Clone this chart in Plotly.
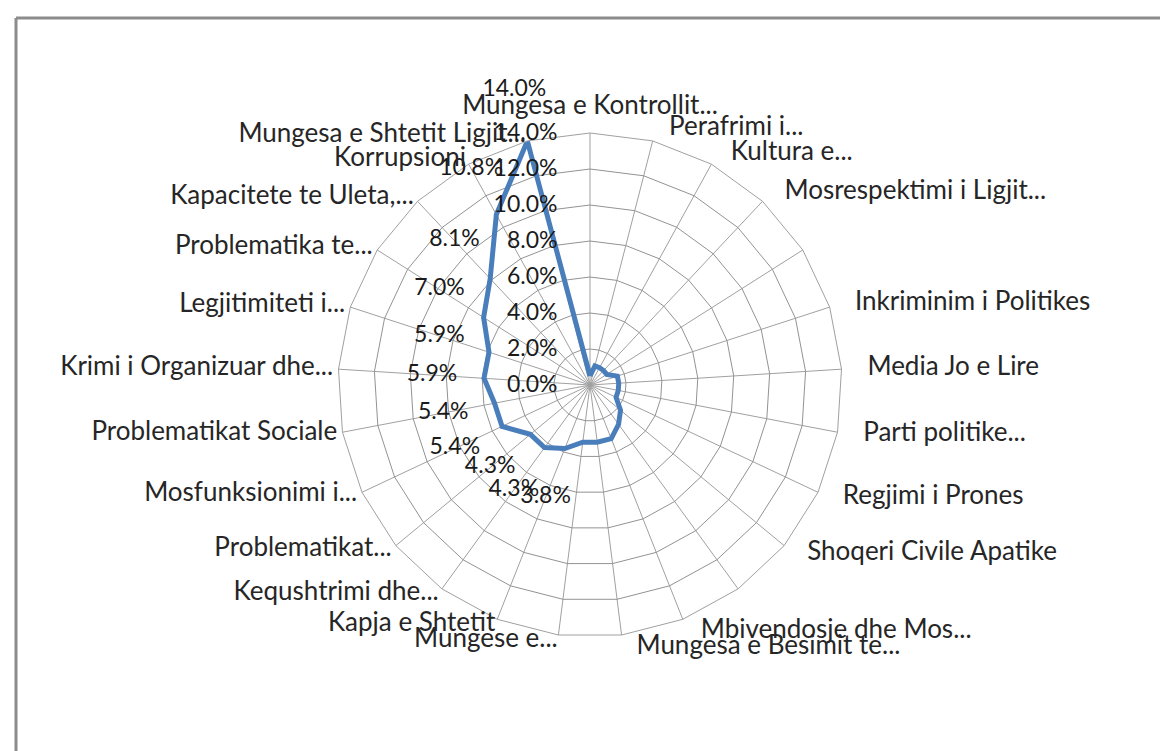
import plotly.graph_objects as go

# 25 categories clockwise from the top, as they appear (Excel truncates long
# names; two spokes carry no visible label in the original)
categories = [
    "Mungesa e Kontrollit...", "Perafrimi i...", "Kultura e...",
    "Mosrespektimi i Ligjit...", " ", "Inkriminim i Politikes",
    "Media Jo e Lire", "Parti politike...", "Regjimi i Prones",
    "Shoqeri Civile Apatike", "  ", "Mbivendosje dhe Mos...",
    "Mungesa e Besimit te...", "Mungese e...", "Kapja e Shtetit",
    "Kequshtrimi dhe...", "Problematikat...", "Mosfunksionimi i...",
    "Problematikat Sociale", "Krimi i Organizuar dhe...", "Legjitimiteti i...",
    "Problematika te...", "Kapacitete te Uleta,...", "Korrupsioni",
    "Mungesa e Shtetit Ligjit...",
]
# share of answers, in percent
values = [0.5, 1.1, 1.1, 1.1, 1.1, 1.6, 1.6, 1.6, 1.6, 2.2, 2.7, 3.2, 3.2, 3.2,
          3.8, 4.3, 4.3, 5.4, 5.4, 5.9, 5.9, 7.0, 8.1, 10.8, 14.0]
# only these points carry a data label in the original
labelled = [False] * 14 + [True] * 11

minor_ticks = [round(i * 0.4, 1) for i in range(36)]
major_ticks = [0, 2, 4, 6, 8, 10, 12, 14]

FONT = "Lato"
LINE_BLUE = "#4a7ebb"
W, H = 1168, 751
CX, CY, R = 582, 377, 252     # polar centre / radius in pixels (from top-left)


def domain(radius):
    cy = H - CY
    return dict(x=[(CX - radius) / W, (CX + radius) / W],
                y=[(cy - radius) / H, (cy + radius) / H])


# Excel-like category label anchoring: centred on top, beside the spoke elsewhere
n = len(categories)
cat_pos, cat_r, cat_txt = [], [], []
for i, name in enumerate(categories):
    ang = i * 360 / n
    if ang == 0:
        cat_pos.append("top center")
        cat_r.append(14.7)
        cat_txt.append(name)
    elif ang < 180:
        cat_pos.append("middle right")
        cat_r.append(14.7)
        cat_txt.append("\u00a0\u00a0" + name)   # Excel leaves a wider gap on the right
    else:
        cat_pos.append("middle left")
        cat_r.append(14.3)
        cat_txt.append(name)

fig = go.Figure()

# the series, closed back to the first category
fig.add_trace(go.Scatterpolar(
    r=values + values[:1],
    theta=categories + categories[:1],
    mode="lines",
    line=dict(color=LINE_BLUE, width=5),
    subplot="polar2",
    hoverinfo="skip",
    showlegend=False,
))

# data labels sit ~3 points further out than their points
# (own, larger polar so the top one is not clipped)
fig.add_trace(go.Scatterpolar(
    r=[v + 2.9 for v, lab in zip(values, labelled) if lab],
    theta=[c for c, lab in zip(categories, labelled) if lab],
    text=[f"{v:.1f}%" for v, lab in zip(values, labelled) if lab],
    mode="text", textposition="middle center",
    textfont=dict(family=FONT, size=23, color="#1a1a1a"),
    cliponaxis=False,
    subplot="polar3",
    hoverinfo="skip",
    showlegend=False,
))

# category names just outside the outer ring
fig.add_trace(go.Scatterpolar(
    r=cat_r, theta=categories, text=cat_txt,
    mode="text", textposition=cat_pos,
    textfont=dict(family=FONT, size=26, color="#262626"),
    cliponaxis=False,
    subplot="polar3",
    hoverinfo="skip",
    showlegend=False,
))

fig.update_layout(
    width=W, height=H,
    margin=dict(l=0, r=0, t=0, b=0),
    paper_bgcolor="white",
    font=dict(family=FONT, size=25, color="#262626"),
    # minor grid underneath
    polar=dict(
        domain=domain(R),
        gridshape="linear",
        bgcolor="white",
        radialaxis=dict(
            range=[0, 14], tickvals=minor_ticks, showticklabels=False,
            gridcolor="#bdbdbd", gridwidth=1, showline=False, ticks="",
        ),
        angularaxis=dict(
            categoryarray=categories, type="category",
            rotation=90, direction="clockwise",
            showticklabels=False, gridcolor="#a0a0a0", linecolor="#a0a0a0",
            ticks="",
        ),
    ),
    # major grid, radial labels and series on top
    polar2=dict(
        domain=domain(R),
        gridshape="linear",
        bgcolor="rgba(0,0,0,0)",
        radialaxis=dict(
            range=[0, 14], tickvals=major_ticks,
            ticktext=[f"{t:.1f}%" for t in major_ticks],
            angle=90, tickangle=90, side="counterclockwise",
            gridcolor="#939393", gridwidth=1, showline=False,
            ticks="outside", ticklen=24, tickcolor="rgba(0,0,0,0)",
            tickfont=dict(family=FONT, size=23, color="#1a1a1a"),
        ),
        angularaxis=dict(
            categoryarray=categories, type="category",
            rotation=90, direction="clockwise",
            gridcolor="#a0a0a0", linecolor="#a0a0a0",
            showticklabels=False, ticks="",
        ),
    ),
    polar3=dict(
        domain=domain(R * 20 / 14),
        bgcolor="rgba(0,0,0,0)",
        radialaxis=dict(range=[0, 20], visible=False),
        angularaxis=dict(categoryarray=categories, type="category",
                         rotation=90, direction="clockwise",
                         showticklabels=False, showgrid=False,
                         showline=False, ticks=""),
    ),
    shapes=[
        dict(type="line", xref="paper", yref="paper",
             x0=8 / W, x1=1, y0=1 - 10 / H, y1=1 - 10 / H,
             line=dict(color="#8c8c8c", width=3)),
        dict(type="line", xref="paper", yref="paper",
             x0=8 / W, x1=8 / W, y0=0, y1=1 - 10 / H,
             line=dict(color="#8c8c8c", width=3)),
    ],
)

fig.write_html("out.html")
